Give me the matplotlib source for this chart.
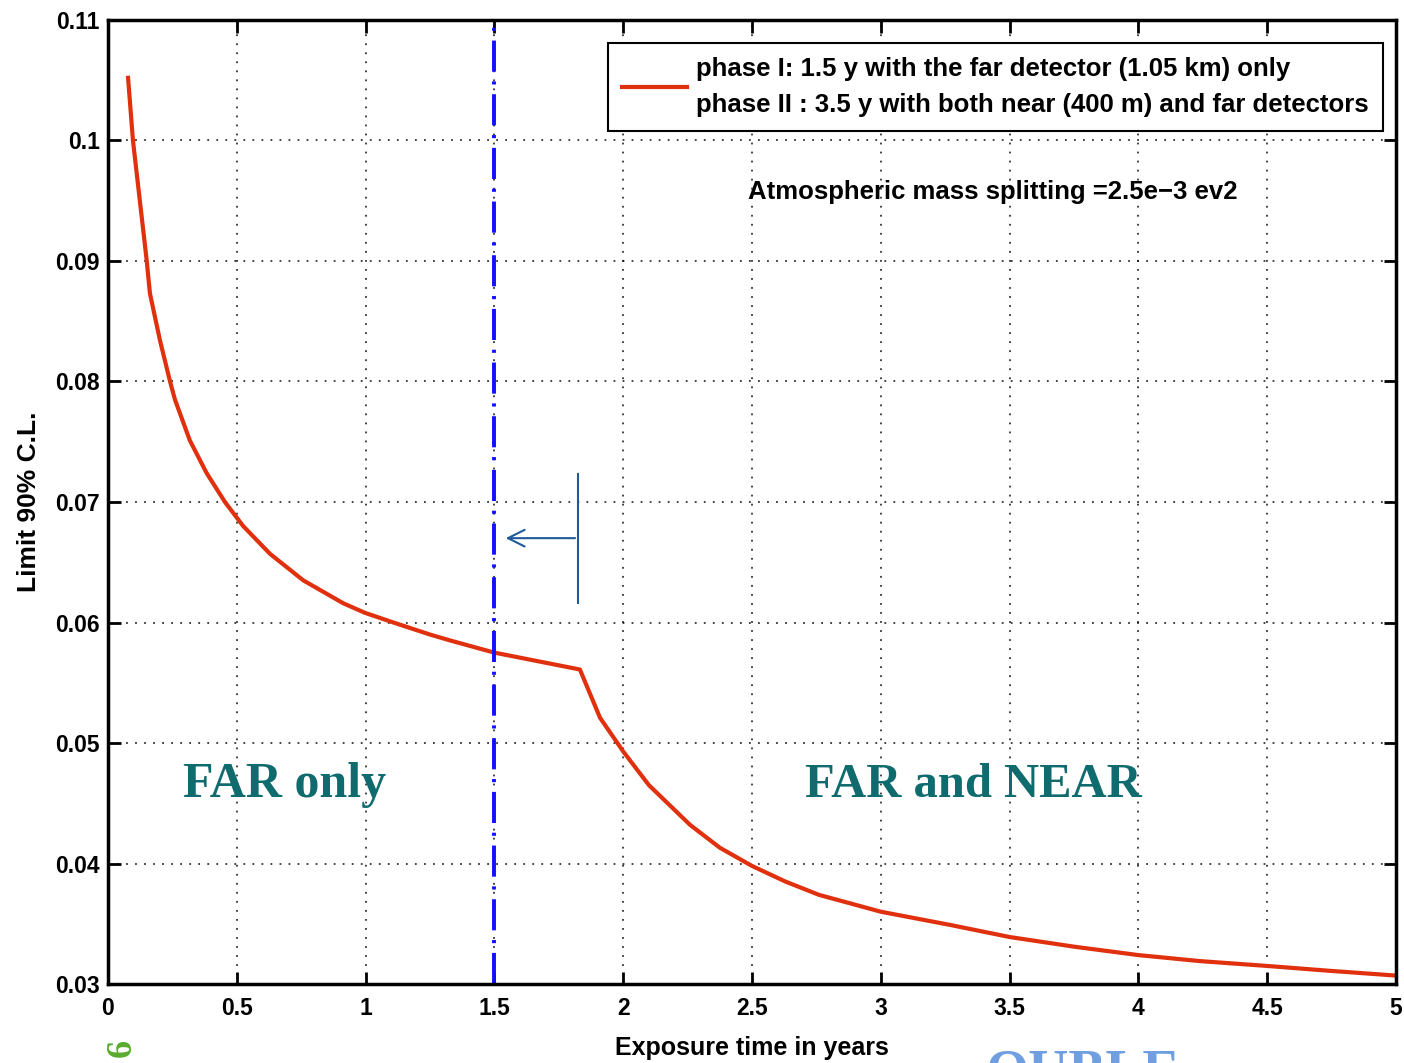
import numpy as np
import matplotlib
matplotlib.use("Agg")
from matplotlib import pyplot as plt

# curve
years = [0.078, 0.097, 0.150, 0.163, 0.202, 0.241, 0.260, 0.318, 0.383, 0.454, 0.525, 0.629, 0.758,
         0.913, 0.998, 1.108, 1.25, 1.33, 1.5, 1.832, 1.91, 2.0, 2.1, 2.26, 2.376, 2.5, 2.63, 2.76,
         3.0, 3.27, 3.5, 3.75, 4.0, 4.24, 4.5, 4.74, 5.0]
limit = [0.1052, 0.1000, 0.0901, 0.0873, 0.0834, 0.0800, 0.0785, 0.0751, 0.0724, 0.0700, 0.0680, 0.0657,
         0.0635, 0.0616, 0.0608, 0.0600, 0.0590, 0.0585, 0.0575, 0.0561, 0.0521, 0.0493, 0.0465, 0.0432,
         0.0413, 0.0398, 0.0385, 0.0374, 0.0360, 0.0349, 0.0339, 0.0331, 0.0324, 0.0319, 0.0315, 0.0311,
         0.0307]

xticks = [0, 0.5, 1, 1.5, 2, 2.5, 3, 3.5, 4, 4.5, 5]
xtick_labels = ["0", "0.5", "1", "1.5", "2", "2.5", "3", "3.5", "4", "4.5", "5"]
yticks = [0.03, 0.04, 0.05, 0.06, 0.07, 0.08, 0.09, 0.10, 0.11]
ytick_labels = ["0.03", "0.04", "0.05", "0.06", "0.07", "0.08", "0.09", "0.1", "0.11"]

phase_split = 1.5
legend_label = ("phase I: 1.5 y with the far detector (1.05 km) only\n"
                "phase II : 3.5 y with both near (400 m) and far detectors")

plt.rcParams["font.family"] = ["Liberation Sans", "DejaVu Sans"]

fig = plt.figure(figsize=(14.04, 10.63), dpi=100)
ax = fig.add_axes([0.0769, 0.0743, 0.9174, 0.9069])

ax.plot(years, limit, color="#e0300e", lw=3, label=legend_label, solid_joinstyle="round")
ax.axvline(phase_split, color="#1010ff", lw=2.8, linestyle=(0, (8, 2.5, 0.8, 2.5)))

ax.set_xlim(0, 5)
ax.set_ylim(0.03, 0.11)
ax.set_xticks(xticks)
ax.set_xticklabels(xtick_labels, fontweight="bold")
ax.set_yticks(yticks)
ax.set_yticklabels(ytick_labels, fontweight="bold")
ax.tick_params(direction="in", length=9, width=2, top=True, right=True, labelsize=16.5)
ax.tick_params(axis="x", pad=9)
ax.tick_params(axis="y", pad=6)
for s in ax.spines.values():
    s.set_linewidth(2.5)
ax.grid(True, color="k", linestyle=(0, (1, 4)), lw=1.3, alpha=0.8)

ax.set_xlabel("Exposure time in years", fontsize=18, fontweight="bold", labelpad=12)
ax.set_ylabel("Limit 90% C.L.", fontsize=19, fontweight="bold", labelpad=10)

leg = ax.legend(loc="upper right", bbox_to_anchor=(0.99, 0.976), fancybox=False,
                framealpha=1, edgecolor="k", handlelength=2.55, borderpad=0.55, handletextpad=0.35,
                borderaxespad=0, prop={"weight": "bold", "size": 18.5})
leg.get_frame().set_linewidth(1.5)
for t in leg.get_texts():
    t.set_linespacing(1.6)

ax.text(3.435, 0.0957, "Atmospheric mass splitting =2.5e\u22123 ev2", fontsize=18.5, fontweight="bold",
        ha="center", va="center")

# hand-drawn arrow
ax.plot([1.824, 1.824], [0.0616, 0.0723], color="#1f5a9a", lw=1.5)
ax.annotate("", xy=(1.533, 0.0670), xytext=(1.824, 0.0670),
            arrowprops=dict(arrowstyle="->", color="#1f5a9a", lw=1.5, mutation_scale=30))

ax.text(0.687, 0.0465, "FAR only", fontsize=36, fontweight="bold", color="#0f6b6e",
        family="Liberation Serif", ha="center", va="center")
ax.text(3.36, 0.0465, "FAR and NEAR", fontsize=35, fontweight="bold", color="#0f6b6e",
        family="Liberation Serif", ha="center", va="center")

# slide fragments cut by the crop
fig.text(0.087, 0.014, "6", fontsize=26, color="#5aab2e", rotation=90, ha="center", va="center",
         family="Liberation Serif", fontweight="bold")
fig.text(0.84, 0.014, "OUBLE", fontsize=40, color="#6f9fe0", ha="right", va="top",
         family="Liberation Serif", fontweight="bold")

fig.savefig("out.png", dpi=100)
